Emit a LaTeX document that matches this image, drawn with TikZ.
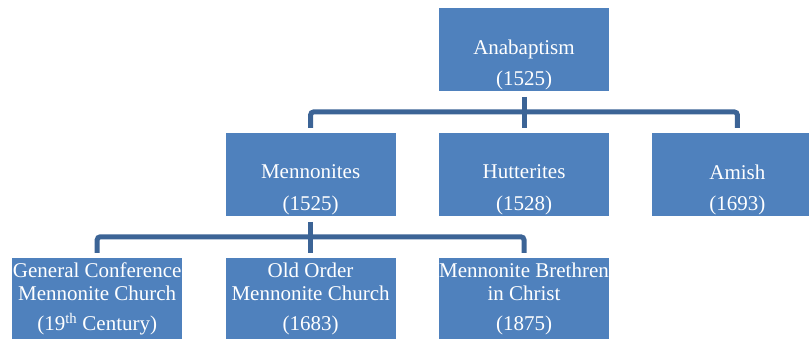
\documentclass[tikz,border=0pt]{standalone}
\usepackage{fontspec}
\setmainfont{Liberation Serif}
\usetikzlibrary{positioning, calc}
\definecolor{boxblue}{HTML}{4F81BD}
\definecolor{linkblue}{HTML}{3C6496}

\begin{document}
\begin{tikzpicture}[
        x=1pt, y=-1pt,
        node distance=42pt and 43pt,
        group/.style={rectangle, fill=boxblue, minimum width=170pt, minimum height=82.5pt, inner sep=0pt},
        caption/.style={text=white, align=center, inner sep=0pt, font=\fontsize{21}{22.5}\selectfont},
        link/.style={draw=linkblue, line width=5pt, rounded corners=3pt}
    ]
        \clip (0,0) rectangle (809,339);
        \node[group] (anab) at (524,49.5) {};
        \node[group, below=of anab] (hutt) {};
        \node[group, left=of hutt] (menn) {};
        \node[group, right=of hutt] (amish) {};
        \node[group, below=of hutt] (mbc) {};
        \node[group, left=of mbc] (oom) {};
        \node[group, left=of oom] (gcm) {};
        \node[caption] (anabtxt) at ([yshift=-15.5pt]anab.center) {Anabaptism\\[9pt](1525)};
        \node[caption] (menntxt) at ([yshift=-15.5pt]menn.center) {Mennonites\\[9pt](1525)};
        \node[caption] (hutttxt) at ([yshift=-15.5pt]hutt.center) {Hutterites\\[9pt](1528)};
        \node[caption] (amishtxt) at ([yshift=-15.5pt]amish.center) {Amish\\[9pt](1693)};
        \node[caption] (gcmtxt) at (gcm.center) {General Conference\\Mennonite Church\\[8pt](19\textsuperscript{th} Century)};
        \node[caption] (oomtxt) at (oom.center) {Old Order\\Mennonite Church\\[8pt](1683)};
        \node[caption] (mbctxt) at (mbc.center) {Mennonite Brethren\\in Christ\\[8pt](1875)};
        \draw[link] ([yshift=-6pt]anab.south) -- ([yshift=5pt]hutt.north);
        \draw[link] ([yshift=5pt]menn.north) |- ($(anab.south)!.5!(hutt.north)$) -| ([yshift=5pt]amish.north);
        \draw[link] ([yshift=-6pt]menn.south) -- ([yshift=5pt]oom.north);
        \draw[link] ([yshift=5pt]gcm.north) |- ($(menn.south)!.5!(oom.north)$) -| ([yshift=5pt]mbc.north);
    \end{tikzpicture}
\end{document}
